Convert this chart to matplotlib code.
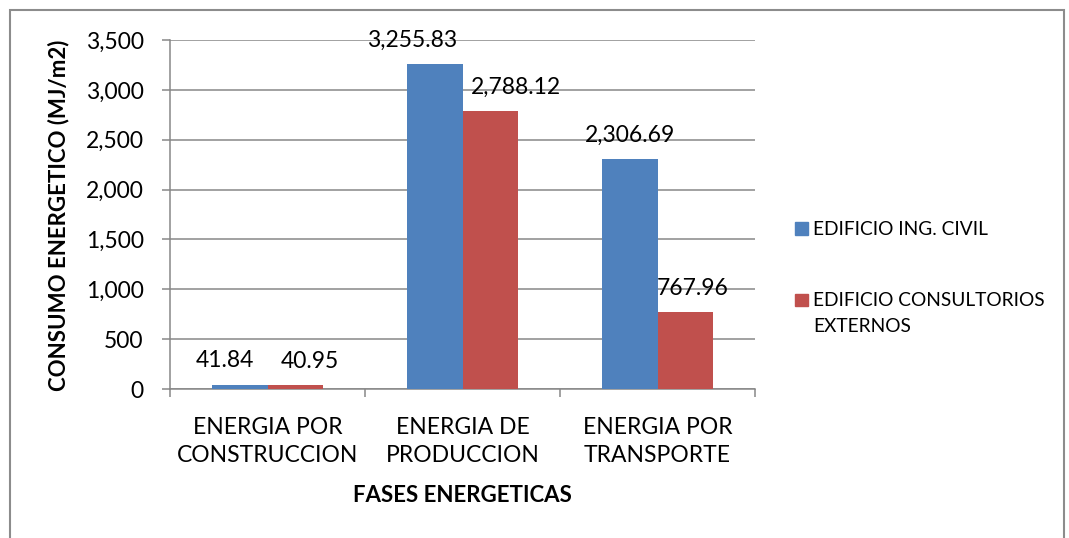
import matplotlib.pyplot as plt
import numpy as np
from matplotlib.patches import Rectangle

# data
fases = ['ENERGIA POR\nCONSTRUCCION', 'ENERGIA DE\nPRODUCCION', 'ENERGIA POR\nTRANSPORTE']
ing_civil = [41.84, 3255.83, 2306.69]
consultorios = [40.95, 2788.12, 767.96]
series_names = ['EDIFICIO ING. CIVIL', 'EDIFICIO CONSULTORIOS\nEXTERNOS']
yticks = [0, 500, 1000, 1500, 2000, 2500, 3000, 3500]

# sideways nudges (px) Excel used so the value labels do not collide
shift_civil = [-15, -22, 0]
shift_cons = [14, 25, 7]

plt.rcParams['font.family'] = ['Lato', 'DejaVu Sans']

W, H = 1069, 538
fig = plt.figure(figsize=(W / 100, H / 100), dpi=100)
fig.patch.set_facecolor('white')

# plot area in pixels: x 170..755, y 40..389
ax = fig.add_axes([170 / W, 1 - 389 / H, (755 - 170) / W, (389 - 40) / H])

grey = '#878787'
blue = '#4F81BD'
red = '#C0504D'

x = np.arange(len(fases))
w = 0.287
b1 = ax.bar(x - w / 2, ing_civil, w, color=blue, zorder=3)
b2 = ax.bar(x + w / 2, consultorios, w, color=red, zorder=3)

for bars, vals, shifts in ((b1, ing_civil, shift_civil), (b2, consultorios, shift_cons)):
    for r, v, s in zip(bars, vals, shifts):
        ax.annotate(f'{v:,.2f}', (r.get_x() + r.get_width() / 2, v),
                    xytext=(s * 0.72, 12.5), textcoords='offset points',
                    ha='center', va='baseline', fontsize=16.5, zorder=4)

ax.set_xlim(-0.5, 2.5)
ax.set_ylim(0, 3500)
ax.set_yticks(yticks)
ax.set_yticklabels([f'{t:,}' for t in yticks])
ax.yaxis.grid(True, color=grey, lw=1.1, zorder=0)
ax.set_axisbelow(True)

ax.set_xticks([-0.5, 0.5, 1.5, 2.5])
ax.set_xticklabels([])
ax.set_xticks(x, minor=True)
ax.set_xticklabels(fases, minor=True, fontsize=16.5, linespacing=1.45)
ax.tick_params(axis='x', which='minor', length=0, pad=20)
ax.tick_params(axis='x', which='major', length=6, color=grey, width=1.1, direction='out')
ax.tick_params(axis='y', length=6, color=grey, width=1.1, pad=13, labelsize=16.5)

for s in ('top', 'right'):
    ax.spines[s].set_visible(False)
for s in ('left', 'bottom'):
    ax.spines[s].set_color(grey)
    ax.spines[s].set_linewidth(1.1)

fig.text(59 / W, 1 - 215 / H, 'CONSUMO ENERGETICO (MJ/m2)', rotation=90,
         ha='center', va='center', fontsize=16, fontweight='bold')
fig.text(462 / W, 1 - 496 / H, 'FASES ENERGETICAS', ha='center', va='center',
         fontsize=16, fontweight='bold')

# legend drawn by hand: square beside the first line of each label
for name, col, ytop in ((series_names[0], blue, 223), (series_names[1], red, 294)):
    fig.add_artist(Rectangle((795 / W, 1 - (ytop + 12) / H), 12.5 / W, 12.5 / H,
                             transform=fig.transFigure, color=col))
    fig.text(813 / W, 1 - (ytop - 2) / H, name, ha='left', va='top',
             fontsize=13.8, linespacing=1.65)

fig.add_artist(Rectangle((10 / W, -0.1), (1064 - 10) / W, 1.1 - 10 / H,
                         transform=fig.transFigure, fill=False,
                         edgecolor='#8c8c8c', lw=1.5))

fig.savefig('out.png', dpi=100)
